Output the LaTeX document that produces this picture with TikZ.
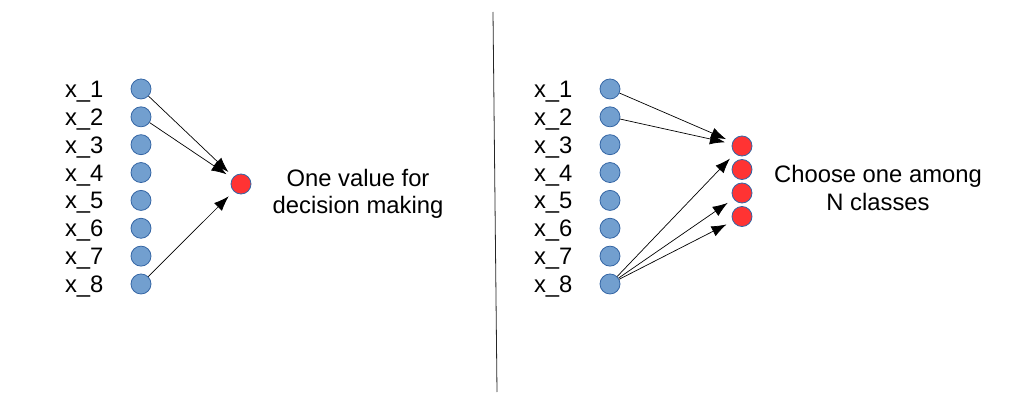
\documentclass[tikz,border=0pt]{standalone}
\usepackage{fontspec}
\setmainfont{Liberation Sans}
\usepackage{tikz}
\usetikzlibrary{arrows.meta}
\usetikzlibrary{positioning}
\definecolor{nodeblue}{HTML}{729FCF}
\definecolor{nodeedge}{HTML}{3465A4}
\definecolor{nodered}{HTML}{FF3333}

\begin{document}
\begin{tikzpicture}[x=1pt, y=-1pt,
  inp/.style={circle, fill=nodeblue, draw=nodeedge, line width=0.8pt, minimum size=20pt, inner sep=0pt},
  outp/.style={inp, fill=nodered},
  txt/.style={font=\fontsize{23.8}{27.5}\selectfont, inner sep=1pt},
  lab/.style={txt, text height=17pt, text depth=0pt},
  link/.style={-{Latex[length=15pt,width=11pt]}, line width=0.7pt, shorten >=7pt}]

 \useasboundingbox (0,0) rectangle (1021,404);

 % left part
 \foreach \i in {1,...,8} {
   \node[inp] (a\i) at (141, 61.1+\i*27.86) {};
   \node[lab, left=26pt of a\i] (la\i) {x\_\i};
 }
 \node[outp] (ar) at (241,184) {};
 \node[txt, align=center] (atext) at (358,194) {One value for\\decision making};

 % right part
 \foreach \i in {1,...,8} {
   \node[inp] (b\i) at (610, 61.1+\i*27.86) {};
   \node[lab, left=26pt of b\i] (lb\i) {x\_\i};
 }
 \foreach \j in {1,...,4}
   \node[outp] (br\j) at (742, 122.5+\j*23.5) {};
 \node[txt, align=center] (btext) at (878,188) {Choose one among\\N classes};

 % lines
 \foreach \source/\dest in {a1/ar, a2/ar, a8/ar, b1/br1, b2/br1, b8/br1, b8/br3, b8/br4}
   \draw[link] (\source) -- (\dest);

 % divider
 \draw[line width=0.8pt, black!85] (493,12) -- (497,392);

\end{tikzpicture}
\end{document}
